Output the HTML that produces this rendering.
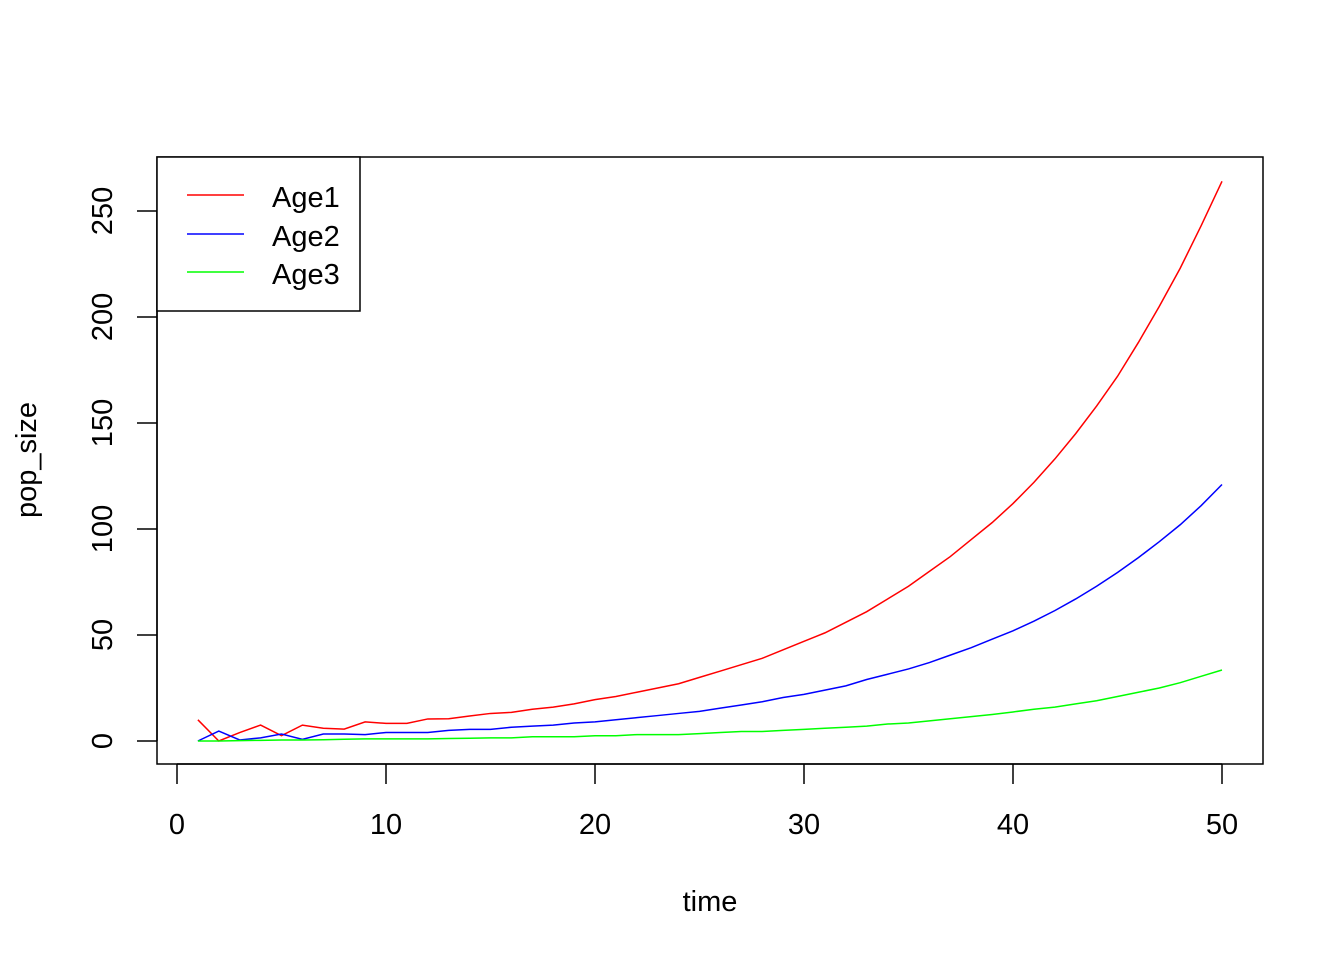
<!DOCTYPE html>
<html><head><meta charset="utf-8"><style>
body{margin:0;background:#fff}
svg{display:block;font-family:"Liberation Sans",Arial,sans-serif}
</style></head><body>
<svg id="chart" width="1344" height="960" viewBox="0 0 1344 960">
<rect x="0" y="0" width="1344" height="960" fill="#fff"/>
<rect x="157" y="157" width="1106" height="607" fill="none" stroke="#000" stroke-width="1.5"/>
<g id="xaxis"></g>
<g id="yaxis"></g>
<g id="series"></g>
<text x="710" y="911" font-size="29" text-anchor="middle">time</text>
<text transform="translate(36,460) rotate(-90)" font-size="29" text-anchor="middle">pop_size</text>
<g>
<rect x="157" y="157" width="203" height="154" fill="#fff" stroke="#000" stroke-width="1.5"/>
<line x1="187" y1="195" x2="244" y2="195" stroke="#f00" stroke-width="1.5"/>
<text x="272" y="207" font-size="29">Age1</text>
<line x1="187" y1="234" x2="244" y2="234" stroke="#00f" stroke-width="1.5"/>
<text x="272" y="246" font-size="29">Age2</text>
<line x1="187" y1="272" x2="244" y2="272" stroke="#0f0" stroke-width="1.5"/>
<text x="272" y="284" font-size="29">Age3</text>
</g>
</svg>
<script>
const xTicks=[0,10,20,30,40,50];
const yTicks=[0,50,100,150,200,250];
const age1=[10,0,4,7.5,2.5,7.5,6,5.6,9,8.3,8.3,10.4,10.5,11.8,13,13.5,15,16,17.5,19.5,21,23,25,27,30,33,36,39,43,47,51,56,61,67,73,80,87,95,103,112,122,133,145,158,172,188,205,223,243,264];
const age2=[0,4.7,0.5,1.5,3.3,0.8,3.3,3.3,3,4,4,4,5,5.5,5.5,6.5,7,7.5,8.5,9,10,11,12,13,14,15.5,17,18.5,20.5,22,24,26,29,31.5,34,37,40.5,44,48,52,56.5,61.5,67,73,79.5,86.5,94,102,111,121];
const age3=[0,0,0.2,0.3,0.5,0.5,0.6,0.8,1,1,1,1,1.2,1.3,1.5,1.5,2,2,2,2.5,2.5,3,3,3,3.5,4,4.5,4.5,5,5.5,6,6.5,7,8,8.5,9.5,10.5,11.5,12.5,13.7,15,16,17.5,19,21,23,25,27.5,30.5,33.5];
const NS="http://www.w3.org/2000/svg";
const X=v=>177+v*(1222-177)/50;
const Y=v=>741-v*(741-211)/250;
function mk(tag,attrs,parent){const e=document.createElementNS(NS,tag);for(const k in attrs)e.setAttribute(k,attrs[k]);parent.appendChild(e);return e;}
const xa=document.getElementById('xaxis'),ya=document.getElementById('yaxis'),sg=document.getElementById('series');
mk('line',{x1:X(xTicks[0]),y1:764,x2:X(xTicks[xTicks.length-1]),y2:764,stroke:'#000','stroke-width':1.5},xa);
xTicks.forEach(t=>{
 const l=mk('line',{x1:X(t),y1:764,x2:X(t),y2:784,stroke:'#000','stroke-width':1.5},xa);
 
 
 const tx=mk('text',{x:X(t),y:834,'font-size':29,'text-anchor':'middle'},xa);tx.textContent=t;
 
 
});
mk('line',{x1:157,y1:Y(yTicks[0]),x2:157,y2:Y(yTicks[yTicks.length-1]),stroke:'#000','stroke-width':1.5},ya);
yTicks.forEach(t=>{
 const l=mk('line',{x1:137,y1:Y(t),x2:157,y2:Y(t),stroke:'#000','stroke-width':1.5},ya);
 
 
 const tx=mk('text',{transform:`translate(112,${Y(t)}) rotate(-90)`,'font-size':29,'text-anchor':'middle'},ya);tx.textContent=t;
 
 
});
[[age1,'#f00','line-age1'],[age2,'#00f','line-age2'],[age3,'#0f0','line-age3']].forEach(([d,c,n])=>{
 const p=mk('polyline',{points:d.map((v,i)=>X(i+1)+','+Y(v)).join(' '),fill:'none',stroke:c,'stroke-width':1.5},sg);
 
 
});
</script>
</body></html>
